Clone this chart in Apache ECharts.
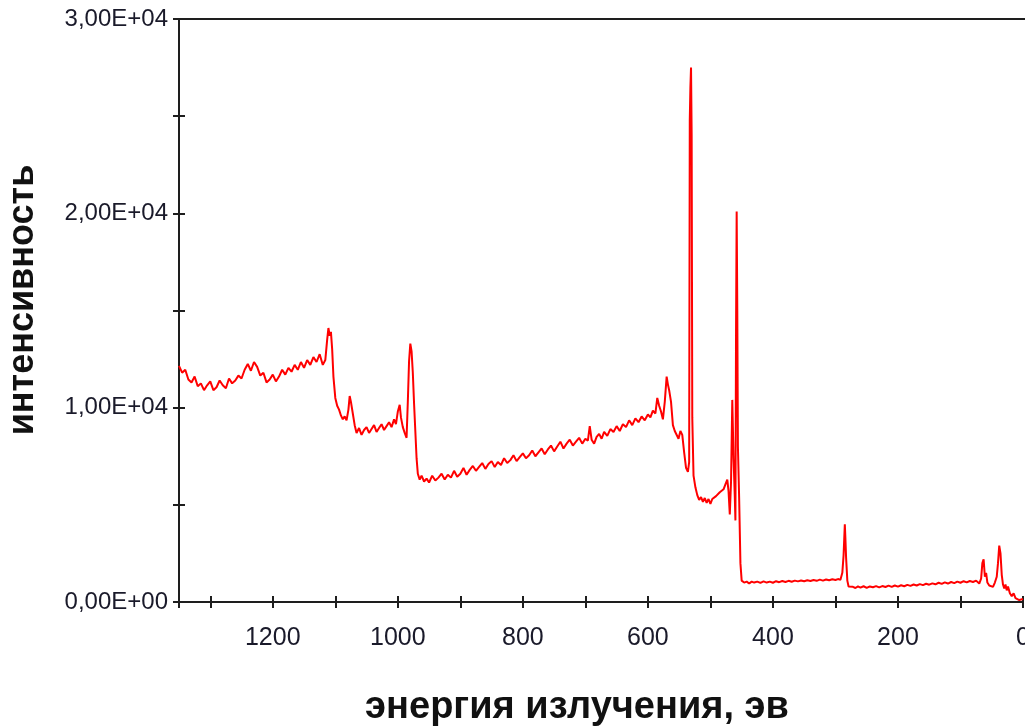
<!DOCTYPE html>
<html>
<head>
<meta charset="utf-8">
<script src="https://cdn.jsdelivr.net/npm/echarts@6/dist/echarts.min.js"></script>
<style>
  html, body { margin: 0; padding: 0; background: #fff; }
  #chart { width: 1025px; height: 727px; }
</style>
</head>
<body>
<div id="chart"></div>
<script>
// Binding energy, eV (descending scan)
const energy = [
  1350,1345,1340,1335,1330,1325,1320,1315,1310,1305,1300,1295,1290,1285,1280,1275,1270,1265,1260,1255,
  1250,1245,1240,1235,1230,1225,1220,1215,1210,1205,1200,1195,1190,1185,1180,1175,1170,1165,1160,1155,
  1150,1145,1140,1135,1130,1125,1120,1116,1113,1111,1109,1107,1105,1103,1100,1097,1094,1091,1088,1085,
  1082,1079,1077,1075,1072,1069,1066,1062,1058,1054,1050,1046,1042,1038,1034,1030,1026,1022,1018,1014,
  1010,1006,1003,1000,997,995,992,989,986,984,982,980,978,976,974,972,970,968,965,962,
  958,954,950,945,940,935,930,925,920,915,910,905,900,895,890,885,880,875,870,865,
  860,855,850,845,840,835,830,825,820,815,810,805,800,795,790,785,780,775,770,765,
  760,755,750,745,740,735,730,725,720,715,710,705,700,696,693,690,686,682,678,674,
  670,665,660,655,650,645,640,635,630,625,620,615,610,605,600,596,592,588,585,582,
  579,576,573,570,568,566,563,560,557,554,551,548,545,542,539,536,534,533,532,531,
  530,529,527,524,521,518,515,512,509,506,503,500,497,494,491,488,485,482,479,476,
  473,471,469,467,465,463,461,460,459,458,457,456,454,452,450,446,442,438,434,430,
  425,420,415,410,405,400,395,390,385,380,375,370,365,360,355,350,345,340,335,330,
  325,320,315,310,305,300,296,292,289,287,285,284,283,281,279,276,272,268,264,260,
  255,250,245,240,235,230,225,220,215,210,205,200,195,190,185,180,175,170,165,160,
  155,150,145,140,135,130,125,120,115,110,105,100,95,90,85,80,75,70,67,65,
  63,61,59,57,54,51,48,45,42,40,38,36,34,32,30,28,26,24,21,18,
  15,12,9,6,3,0
];

// Intensity, counts
const intensity = [
  12150,11800,11950,11450,11300,11600,11100,11250,10900,11150,11350,10900,11050,11400,11150,11000,11500,11250,11400,11650,
  11500,11950,12250,11900,12350,12100,11650,11800,11300,11450,11700,11350,11600,11950,11700,12050,11850,12200,11950,12350,
  12050,12450,12200,12600,12350,12750,12200,12450,13500,14100,13700,13900,13000,11600,10500,10100,9900,9600,9400,9550,
  9350,9900,10600,10300,9700,9100,8700,8950,8600,8850,9000,8700,8900,9100,8750,8950,9150,8850,9050,9250,
  9000,9400,9150,9800,10150,9500,9000,8700,8450,10300,12400,13300,12900,11800,10200,8800,7400,6600,6300,6500,
  6200,6350,6150,6500,6250,6400,6600,6300,6550,6400,6750,6450,6600,6900,6550,6800,7000,6750,6950,7150,
  6850,7100,7250,6950,7200,7050,7400,7150,7300,7550,7250,7450,7650,7400,7550,7800,7500,7700,7900,7600,
  7850,8050,7750,8000,8250,7900,8150,8350,8050,8250,8450,8150,8400,8300,9050,8350,8150,8500,8650,8400,
  8750,8550,8900,8750,9050,8800,9150,9000,9350,9100,9450,9250,9550,9350,9650,9500,9850,9700,10500,10100,
  9800,9400,10300,11600,11200,10900,10300,9100,8800,8900,8400,8800,8600,7700,6900,6700,7200,24800,26500,27500,
  24000,9500,6500,5900,5500,5250,5400,5150,5350,5100,5300,5050,5300,5200,5450,5400,5650,5550,5800,6050,
  6300,5700,4500,6200,10400,7400,5400,4200,14000,20100,15000,8000,5300,2000,1100,1000,1050,950,1050,1000,
  1050,980,1060,1000,1050,990,1070,1020,1080,1030,1090,1040,1100,1060,1110,1070,1120,1080,1130,1090,
  1150,1100,1160,1120,1170,1130,1180,1150,1500,2400,4000,3200,2300,1100,800,700,780,720,800,740,
  810,730,800,760,820,750,820,770,840,780,850,790,860,810,880,830,900,850,920,870,
  940,890,960,910,990,930,1010,950,1030,970,1050,990,1070,1010,1080,1030,1100,950,1200,2000,
  2200,1300,1500,1000,850,900,780,1000,1300,2000,2900,2500,1400,900,700,900,600,800,450,300,
  450,200,250,100,200,150
];

// Axis settings
const xMin = 0, xMax = 1350, xStep = 100, xLabelStep = 200;
const yMin = 0, yMax = 30000, yStep = 5000, yLabelStep = 10000;

const xTitle = 'энергия излучения, эв';
const yTitle = 'интенсивность';

const spectrum = energy.map((e, i) => [e, intensity[i]]);

// "1,00E+04" style scientific labels
function sciLabel(v) {
  const s = Number(v).toExponential(2);          // e.g. "1.00e+4"
  const [mant, exp] = s.split('e');
  const n = parseInt(exp, 10);
  const sign = n < 0 ? '-' : '+';
  const ee = String(Math.abs(n)).padStart(2, '0');
  return mant.replace('.', ',') + 'E' + sign + ee;
}

const axisColor = '#1e1e1e';
const labelFont = 'Liberation Sans, Arial, sans-serif';
const plotRect = { left: 179, right: 2, top: 19, bottom: 125, containLabel: false, outerBoundsMode: 'none' };

const chart = echarts.init(document.getElementById('chart'), null, { renderer: 'canvas' });

const xBase = { type: 'value', min: xMin, max: xMax, interval: xStep, inverse: true, splitLine: { show: false } };
const yBase = { type: 'value', min: yMin, max: yMax, interval: yStep, splitLine: { show: false } };
const tickStyle = { color: axisColor, width: 2 };

chart.setOption({
  animation: false,
  backgroundColor: '#ffffff',
  // two grids on the same rectangle: the second one carries the inner tick halves
  grid: [Object.assign({}, plotRect), Object.assign({}, plotRect)],
  xAxis: [
    Object.assign({}, xBase, {
      gridIndex: 0, position: 'bottom',
      axisLine: { show: true, onZero: false, lineStyle: { color: axisColor, width: 2 } },
      axisTick: { show: true, length: 6, lineStyle: tickStyle },
      axisLabel: {
        show: true, margin: 24, color: '#1a1a2a', fontSize: 25, fontFamily: labelFont,
        formatter: v => (v % xLabelStep === 0 ? String(v) : '')
      }
    }),
    Object.assign({}, xBase, {
      gridIndex: 1, position: 'bottom',
      axisLine: { show: false, onZero: false },
      axisTick: { show: true, inside: true, length: 6, lineStyle: tickStyle },
      axisLabel: { show: false }
    })
  ],
  yAxis: [
    Object.assign({}, yBase, {
      gridIndex: 0, position: 'left',
      axisLine: { show: true, onZero: false, lineStyle: { color: axisColor, width: 2 } },
      axisTick: { show: true, length: 6, lineStyle: tickStyle },
      axisLabel: {
        show: true, margin: 11, color: '#1a1a2a', fontSize: 24, fontFamily: labelFont,
        formatter: v => (v % yLabelStep === 0 ? sciLabel(v) : '')
      }
    }),
    Object.assign({}, yBase, {
      gridIndex: 1, position: 'left',
      axisLine: { show: false, onZero: false },
      axisTick: { show: true, inside: true, length: 6, lineStyle: tickStyle },
      axisLabel: { show: false }
    })
  ],
  graphic: [
    // top frame line
    {
      type: 'line',
      shape: { x1: 179, y1: 19, x2: 1025, y2: 19 },
      style: { stroke: axisColor, lineWidth: 2 }
    },
    {
      type: 'text',
      x: 577, y: 708,
      style: {
        text: xTitle, fill: '#111', font: 'bold 38px "Liberation Sans", Arial, sans-serif',
        textAlign: 'center', textVerticalAlign: 'middle'
      }
    },
    {
      type: 'text',
      x: 23, y: 300, rotation: Math.PI / 2,
      style: {
        text: yTitle, fill: '#111', font: 'bold 36px "Liberation Sans", Arial, sans-serif',
        textAlign: 'center', textVerticalAlign: 'middle'
      }
    }
  ],
  series: [{
    type: 'line',
    xAxisIndex: 0, yAxisIndex: 0,
    data: spectrum,
    showSymbol: false,
    symbol: 'none',
    lineStyle: { color: '#ff0000', width: 2 },
    silent: true
  }]
});
</script>
</body>
</html>
